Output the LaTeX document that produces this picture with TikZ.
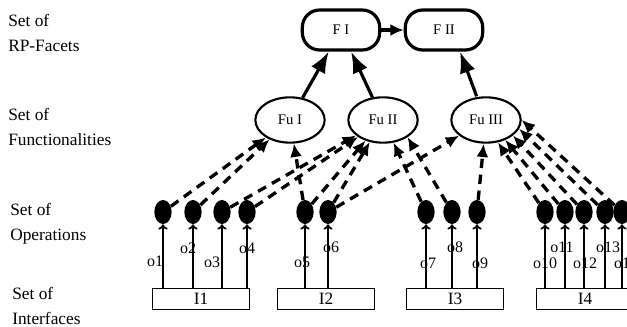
\documentclass[tikz,border=0pt]{standalone}
\usepackage{fontspec}
\setmainfont{Liberation Serif}
\usetikzlibrary{shapes.geometric, arrows.meta}

\begin{document}
\begin{tikzpicture}[x=0.75pt, y=-0.75pt,
  facet/.style={draw, line width=2.4pt, rounded corners=13pt, minimum width=58pt, minimum height=30pt, font=\fontsize{11}{11}\selectfont},
  func/.style={draw, ellipse, line width=1.6pt, minimum width=52pt, minimum height=34pt, inner sep=0pt, font=\fontsize{11}{11}\selectfont},
  oper/.style={fill, ellipse, minimum width=13pt, minimum height=18pt, inner sep=0pt},
  iface/.style={draw, line width=1.2pt, minimum width=73pt, minimum height=16pt, inner sep=0pt, font=\fontsize{13}{13}\selectfont},
  setlbl/.style={anchor=west, align=left, inner sep=0pt, font=\fontsize{13}{19}\selectfont},
  olbl/.style={inner sep=0pt, font=\fontsize{12}{12}\selectfont},
  uses/.style={dash pattern=on 7pt off 5pt, line width=2.5pt, -{Latex[length=10pt,width=9pt]}},
  rel/.style={line width=2.4pt, -{Latex[length=16pt,width=12pt]}},
  calls/.style={line width=1.3pt, -{To[length=4pt,width=7pt]}}
]
\useasboundingbox (0,0) rectangle (627,327);

% level names
\node[setlbl] (lfacet) at (8,33) {Set of\\RP-Facets};
\node[setlbl] (lfunc) at (8,127) {Set of\\Functionalities};
\node[setlbl] (loper) at (10,224) {Set of\\Operations};
\node[setlbl] (liface) at (12,306) {Set of\\Interfaces};

% facets and functionalities
\node[facet] (f1) at (341,30) {F I};
\node[facet] (f2) at (444,30) {F II};
\node[func] (fu1) at (290,120) {Fu I};
\node[func] (fu2) at (383,120) {Fu II};
\node[func] (fu3) at (486,120) {Fu III};

% interfaces
\node[iface] (i1) at (201,299) {I1};
\node[iface] (i2) at (326,299) {I2};
\node[iface] (i3) at (455,299) {I3};
\node[iface] (i4) at (585,299) {I4};

% operations with their labels
\foreach \i/\x/\k/\lx/\ly in {1/163/1/155/261, 2/193/1/188/248, 3/222/1/212/262, 4/247/1/247/248,
    5/305/2/302/262, 6/328/2/331/247, 7/426/3/428/263, 8/452/3/455/247, 9/477/3/480/263,
    10/545/4/545/263, 11/565/4/562/247, 12/584/4/585/263, 13/605/4/608/247, 14/622/4/626/263}
{
  \node[oper] (o\i) at (\x,212) {};
  \node[olbl] (lo\i) at (\lx,\ly) {o\i};
  \draw[calls] (o\i |- i\k.north) -- (o\i);
}

% facet hierarchy
\draw[rel] (fu1) -- (f1);
\draw[rel] (fu2) -- (f1);
\draw[rel] ([xshift=-7pt]fu3.north) -- ([xshift=12pt]f2.south);
\draw[line width=2.4pt, -{Latex[length=10pt,width=9pt]}] (f1) -- (f2);

% operations used by functionalities
\foreach \i in {1,2,5}
  \draw[uses] (o\i) -- (fu1);
\foreach \i in {3,4,5,6,7}
  \draw[uses] (o\i) -- (fu2);
\draw[uses] (o8) -- (fu2.-35);
\foreach \i in {6,9}
  \draw[uses] (o\i) -- (fu3);
\foreach \i/\a in {10/-62,11/-46,12/-30,13/-15,14/0}
  \draw[uses] (o\i) -- (fu3.\a);
\end{tikzpicture}
\end{document}
